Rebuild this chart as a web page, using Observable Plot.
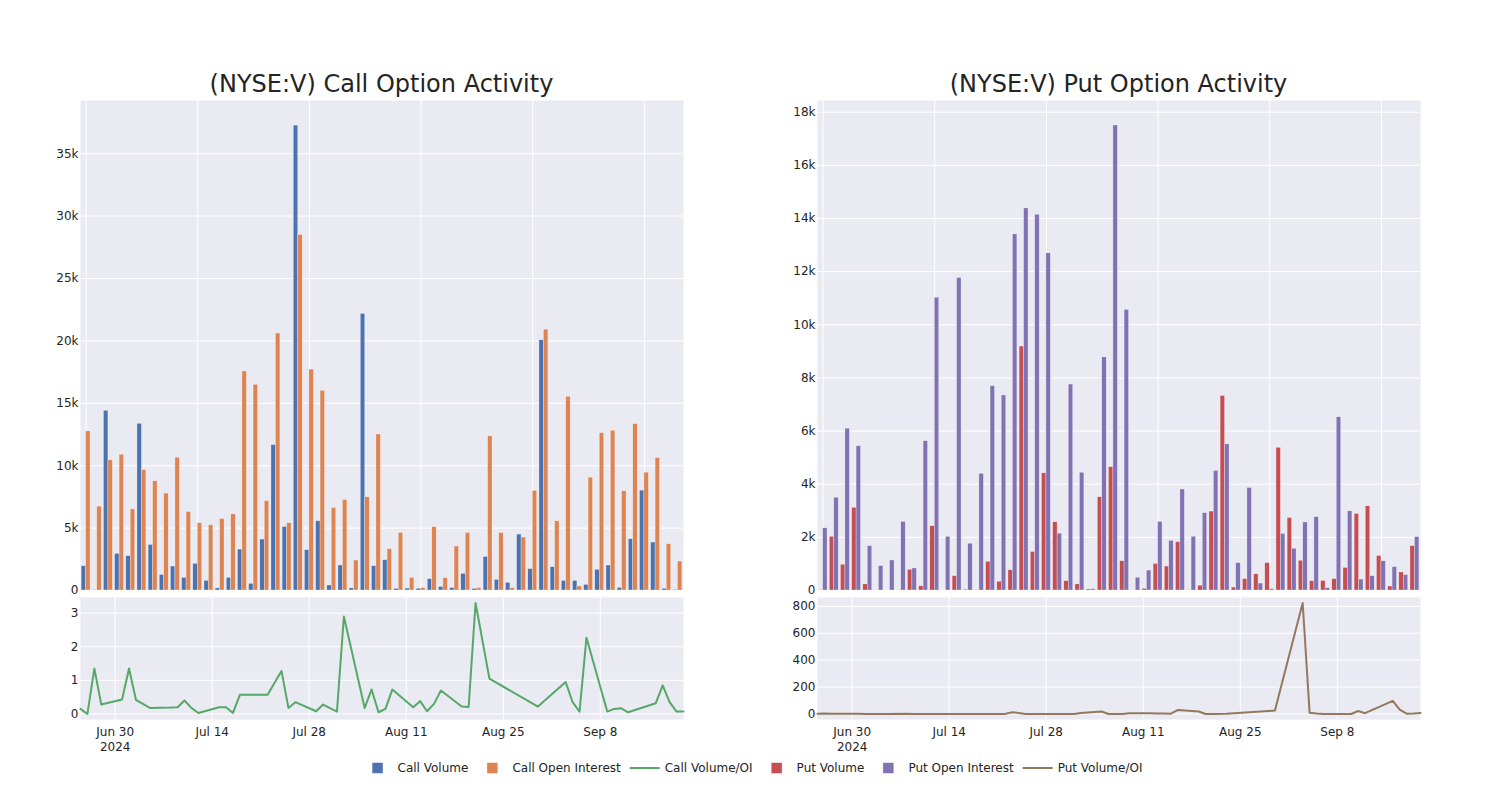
<!DOCTYPE html>
<html><head><meta charset="utf-8">
<script src="https://cdn.jsdelivr.net/npm/d3@7"></script>
<script src="https://cdn.jsdelivr.net/npm/@observablehq/plot@0.6"></script>
<style>
body{margin:0;background:#fff;font-family:"DejaVu Sans",sans-serif;color:#242424;}
#root{position:relative;width:1500px;height:800px;overflow:hidden}
.panel{position:absolute}
#overlay{position:absolute;left:0;top:0}
</style></head><body><div id="root"></div>
<script>
// ---- data ----
const dates = ["2024-06-25","2024-06-26","2024-06-27","2024-06-28","2024-07-01","2024-07-02","2024-07-03","2024-07-05","2024-07-08","2024-07-09","2024-07-10","2024-07-11","2024-07-12","2024-07-15","2024-07-16","2024-07-17","2024-07-18","2024-07-22","2024-07-23","2024-07-24","2024-07-25","2024-07-26","2024-07-29","2024-07-30","2024-08-01","2024-08-02","2024-08-05","2024-08-06","2024-08-07","2024-08-08","2024-08-09","2024-08-12","2024-08-13","2024-08-14","2024-08-15","2024-08-16","2024-08-19","2024-08-20","2024-08-21","2024-08-23","2024-08-30","2024-09-03","2024-09-04","2024-09-05","2024-09-06","2024-09-09","2024-09-10","2024-09-11","2024-09-12","2024-09-16","2024-09-17","2024-09-18","2024-09-19","2024-09-20"];
const callVolume = [1950,30,14400,2930,2750,13360,3650,1250,1920,1010,2130,770,170,1010,3280,530,4080,11650,5090,37250,3230,5550,400,2000,170,22160,1950,2430,130,150,140,910,290,190,1330,130,2690,850,610,4480,1710,20050,1870,770,770,450,1650,2000,210,4110,8000,3840,130,50];
const callOpenInterest = [12750,6720,10430,10880,6500,9650,8750,7760,10640,6290,5390,5230,5730,6100,17550,16480,7150,20590,5390,28480,17700,16000,6610,7250,2400,7470,12500,3310,4610,1010,190,5070,990,3520,4610,190,12350,4610,185,4240,7970,20900,5550,15520,330,9040,12610,12800,7950,13330,9440,10610,3710,2320];
const callVolumeOI = [0.15,0.0,1.35,0.28,0.43,1.35,0.42,0.18,0.19,0.2,0.4,0.18,0.03,0.2,0.2,0.03,0.57,0.57,0.93,1.28,0.18,0.35,0.08,0.28,0.07,2.9,0.18,0.73,0.05,0.15,0.73,0.2,0.38,0.08,0.3,0.7,0.22,0.21,3.3,1.05,0.22,0.95,0.35,0.07,2.27,0.07,0.15,0.17,0.05,0.32,0.85,0.35,0.07,0.07];
const putVolume = [10,2020,970,3110,230,0,0,10,780,160,2420,0,540,30,10,1080,330,760,9180,1450,4410,2570,350,230,40,3510,4640,1100,0,60,1000,900,1820,10,180,2970,7320,110,430,610,1030,5370,2730,1120,350,360,430,850,2880,3170,1300,150,680,1670];
const putOpenInterest = [2340,3490,6090,5430,1670,920,1130,2580,830,5620,11020,2020,11760,1760,4390,7690,7340,13400,14380,14140,12690,2140,7750,4430,50,8770,17500,10560,480,750,2580,1870,3800,2020,2910,4500,5500,1030,3860,260,50,2130,1570,2560,2760,90,6520,2980,410,540,1100,880,580,2010];
const putVolumeOI = [2,3,2,2,1,0,0,0,1,0,0,0,0,0,0,0,0,0,12,8,0,0,0,0,0,8,18,0,0,0,6,5,4,3,2,30,18,0,0,1,25,825,10,3,0,0,0,22,6,97,32,2,4,8];
const callBarTicks = [0,5000,10000,15000,20000,25000,30000,35000];
const putBarTicks = [0,2000,4000,6000,8000,10000,12000,14000,16000,18000];
const callRatioTicks = [0,1,2,3];
const putRatioTicks = [0,200,400,600,800];
const dateTicks = ["2024-06-30","2024-07-14","2024-07-28","2024-08-11","2024-08-25","2024-09-08"];
const dateTickLabels = ["Jun 30\n2024","Jul 14","Jul 28","Aug 11","Aug 25","Sep 8"];
const titles = ["(NYSE:V) Call Option Activity","(NYSE:V) Put Option Activity"];
const legendItems = [
  {label:"Call Volume", type:"bar", color:"#4C72B0"},
  {label:"Call Open Interest", type:"bar", color:"#DD8452"},
  {label:"Call Volume/OI", type:"line", color:"#55A868"},
  {label:"Put Volume", type:"bar", color:"#C44E52"},
  {label:"Put Open Interest", type:"bar", color:"#8172B3"},
  {label:"Put Volume/OI", type:"line", color:"#937860"}
];

// ---- helpers ----
const FONT = "DejaVu Sans";
const BG = "#EAEAF2";
const root = document.getElementById("root");
const kfmt = d => d === 0 ? "0" : `${d/1000}k`;
const tickDates = dateTicks.map(d => new Date(d));

function place(node, left, top) {
  const div = document.createElement("div");
  div.className = "panel";
  div.style.left = left + "px";
  div.style.top = top + "px";
  div.appendChild(node);
  root.appendChild(div);
}

function barPanel(vol, oi, c1, c2, ymax, ticks) {
  const rows = vol.map((v, i) => ({i, vol: v, oi: oi[i]}));
  return Plot.plot({
    width: 700, height: 502, marginLeft: 80, marginRight: 17, marginTop: 10, marginBottom: 2,
    style: {fontFamily: FONT, fontSize: "12px", color: "#242424", background: "transparent", overflow: "visible"},
    x: {domain: [-0.5, rows.length - 0.5], axis: null},
    y: {domain: [0, ymax], axis: null},
    marks: [
      Plot.frame({fill: BG, stroke: "none"}),
      Plot.gridY(ticks, {stroke: "white", strokeOpacity: 1, strokeWidth: 1}),
      Plot.gridX(d3.range(0, rows.length, 10), {stroke: "white", strokeOpacity: 1, strokeWidth: 1}),
      Plot.rect(rows, {x1: d => d.i - 0.4, x2: d => d.i, y1: 0, y2: "vol", fill: c1, stroke: "white", strokeWidth: 0.5, strokeOpacity: 0.6}),
      Plot.rect(rows, {x1: d => d.i, x2: d => d.i + 0.4, y1: 0, y2: "oi", fill: c2, stroke: "white", strokeWidth: 0.5, strokeOpacity: 0.6}),
      Plot.axisY(ticks, {tickSize: 0, tickPadding: 2, tickFormat: kfmt, fontSize: 12, fill: "#242424", label: null})
    ]
  });
}

function linePanel(vals, color, ydomain, ticks) {
  const rows = dates.map((d, i) => ({date: new Date(d), v: vals[i]}));
  return Plot.plot({
    width: 700, height: 182, marginLeft: 80, marginRight: 17, marginTop: 10, marginBottom: 50,
    style: {fontFamily: FONT, fontSize: "12px", color: "#242424", background: "transparent", overflow: "visible"},
    x: {type: "utc", domain: [rows[0].date, rows[rows.length - 1].date], axis: null, label: null},
    y: {domain: ydomain, axis: null, label: null},
    marks: [
      Plot.frame({fill: BG, stroke: "none"}),
      Plot.gridY(ticks, {stroke: "white", strokeOpacity: 1, strokeWidth: 1}),
      Plot.gridX(tickDates, {stroke: "white", strokeOpacity: 1, strokeWidth: 1}),
      Plot.lineY(rows, {x: "date", y: "v", stroke: color, strokeWidth: 2}),
      Plot.axisY(ticks, {tickSize: 0, tickPadding: 2, fontSize: 12, fill: "#242424", label: null}),
      Plot.axisX(tickDates, {tickSize: 0, tickPadding: 5, fontSize: 12, fill: "#242424", lineHeight: 1.3, label: null,
        tickFormat: d => dateTickLabels[tickDates.findIndex(t => +t === +d)]})
    ]
  });
}

// ---- panels ----
place(barPanel(callVolume, callOpenInterest, "#4C72B0", "#DD8452", 39260, callBarTicks), 0, 90);
place(linePanel(callVolumeOI, "#55A868", [-0.165, 3.465], callRatioTicks), 0, 587);
place(barPanel(putVolume, putOpenInterest, "#C44E52", "#8172B3", 18440, putBarTicks), 737, 90);
place(linePanel(putVolumeOI, "#937860", [-41, 866], putRatioTicks), 737, 587);

// ---- titles & legend overlay ----
const svg = d3.select(root).append("svg").attr("id", "overlay")
  .attr("width", 1500).attr("height", 800)
  .style("font-family", FONT).style("pointer-events", "none");
[381.5, 1118.5].forEach((cx, k) => {
  svg.append("text").attr("x", cx).attr("y", 92).attr("text-anchor", "middle")
    .attr("font-size", 24).attr("fill", "#242424").text(titles[k]);
});
const lg = svg.append("g");
let x = 0;
const ly = 768;
legendItems.forEach((it, k) => {
  const g = lg.append("g");
  if (it.type === "bar") {
    g.append("rect").attr("x", x + 14.5).attr("y", ly - 5.5).attr("width", 11).attr("height", 11)
      .attr("fill", it.color).attr("stroke", "white").attr("stroke-width", 0.5);
  } else {
    g.append("line").attr("x1", x + 5).attr("x2", x + 35).attr("y1", ly).attr("y2", ly)
      .attr("stroke", it.color).attr("stroke-width", 2);
  }
  const t = g.append("text").attr("x", x + 40).attr("y", ly + 4.3).attr("font-size", 12)
    .attr("fill", "#242424").text(it.label);
  x += 40 + t.node().getComputedTextLength() + 4;
});
const total = x - 4;
lg.attr("transform", `translate(${750 - total / 2},0)`);
</script>
</body></html>
